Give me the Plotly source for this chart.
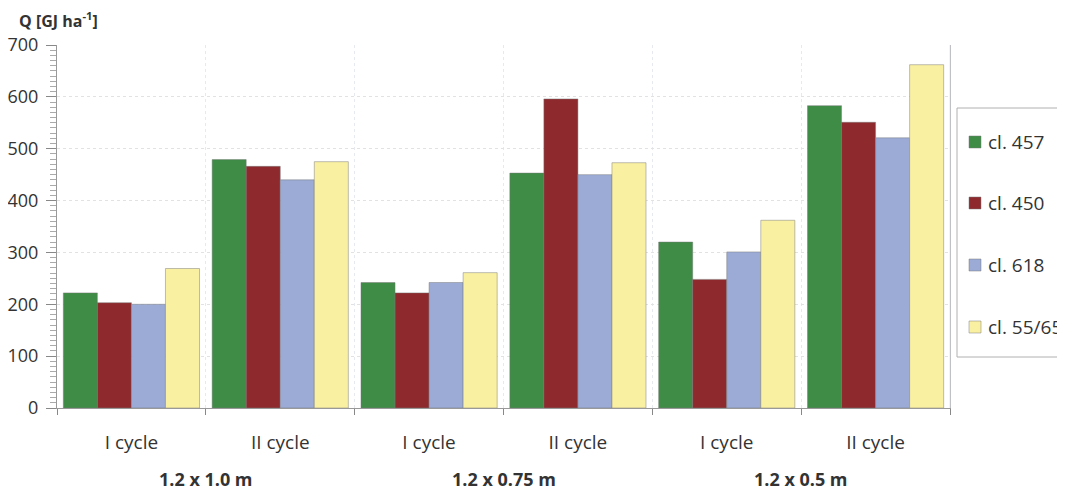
import plotly.graph_objects as go

categories = ["A-I", "A-II", "B-I", "B-II", "C-I", "C-II"]
cycle_labels = ["I cycle", "II cycle", "I cycle", "II cycle", "I cycle", "II cycle"]
spacing_labels = ["1.2 x 1.0 m", "1.2 x 0.75 m", "1.2 x 0.5 m"]

cl_457 = [222, 479, 242, 453, 320, 583]
cl_450 = [203, 466, 222, 596, 248, 551]
cl_618 = [200, 440, 242, 450, 301, 521]
cl_5565 = [269, 475, 261, 473, 362, 662]

series = [
    ("cl. 457", cl_457, "#3e8c45"),
    ("cl. 450", cl_450, "#8e2a2d"),
    ("cl. 618", cl_618, "#9babd6"),
    ("cl. 55/65", cl_5565, "#faf0a2"),
]

FONT = "Open Sans"
W, H = 1057, 484           # page body adds an 8px offset
ML, MR, MT, MB = 49, 115, 37, 84
PW, PH = W - ML - MR, H - MT - MB


def px2x(px):
    return (px - ML) / PW


def py2y(py):
    return (H - MB - py) / PH


fig = go.Figure()
for i, (name, vals, col) in enumerate(series):
    fig.add_trace(go.Bar(
        x=categories, y=vals, name=name, showlegend=False,
        marker=dict(color=col, line=dict(color="rgba(120,120,120,0.6)", width=0.8)),
    ))

fig.update_layout(
    width=W, height=H,
    margin=dict(l=ML, r=MR, t=MT, b=MB, autoexpand=False),
    paper_bgcolor="white", plot_bgcolor="white",
    barmode="group", bargap=0.085, bargroupgap=0,
    font=dict(family=FONT, size=18, color="#333333"),
    showlegend=False,
)

fig.update_xaxes(
    type="category", tickson="boundaries",
    tickvals=categories, ticktext=cycle_labels,
    ticks="outside", ticklen=6, tickcolor="#888888",
    showline=True, linecolor="#999999", linewidth=1,
    showgrid=True, gridcolor="#e6e9f0", griddash="dot", gridwidth=1,
    mirror=False, ticklabelstandoff=17, automargin=False,
    tickfont=dict(size=19, color="#333333"),
)
fig.update_yaxes(
    range=[0, 700], dtick=100, tick0=0,
    ticks="outside", ticklen=10, tickcolor="#888888",
    showline=True, linecolor="#999999", linewidth=1, mirror=True,
    showgrid=True, gridcolor="#e2e2e2", griddash="dot", gridwidth=1,
    zeroline=False, automargin=False, ticklabelstandoff=4,
    minor=dict(dtick=10, ticks="outside", ticklen=6, tickcolor="#aaaaaa", showgrid=False),
    tickfont=dict(size=18, color="#333333"),
)

# right edge of plot area
fig.add_shape(type="line", xref="paper", yref="paper", x0=1, x1=1, y0=0, y1=1,
              line=dict(color="#e6e9f0", width=1))

# legend (drawn by hand to match spacing)
fig.add_shape(type="rect", xref="paper", yref="paper",
              x0=px2x(949), x1=px2x(1075), y0=py2y(100), y1=py2y(349),
              line=dict(color="#b0b0b0", width=1), fillcolor="white")
item_y = [134, 195, 257, 319]
for (name, vals, col), iy in zip(series, item_y):
    fig.add_shape(type="rect", xref="paper", yref="paper",
                  x0=px2x(961), x1=px2x(973), y0=py2y(iy - 6), y1=py2y(iy + 6),
                  line=dict(color="rgba(120,120,120,0.6)", width=0.8), fillcolor=col)
    fig.add_annotation(x=px2x(978), y=py2y(iy), xref="paper", yref="paper",
                       text=name, showarrow=False, xanchor="left", yanchor="middle",
                       font=dict(size=19, color="#333333", family=FONT))

for j, lab in enumerate(spacing_labels):
    fig.add_annotation(
        x=2 * j + 0.5, xref="x", y=py2y(471), yref="paper",
        text=f"<b>{lab}</b>", showarrow=False,
        font=dict(size=18, color="#333333", family=FONT),
        xanchor="center", yanchor="middle",
    )

fig.add_annotation(
    x=px2x(9), xref="paper", y=py2y(12), yref="paper", yanchor="middle", xanchor="left",
    text="<b>Q [GJ ha<sup>-1</sup>]</b>", showarrow=False,
    font=dict(size=16, color="#333333", family=FONT),
)

fig.write_html("out.html")
